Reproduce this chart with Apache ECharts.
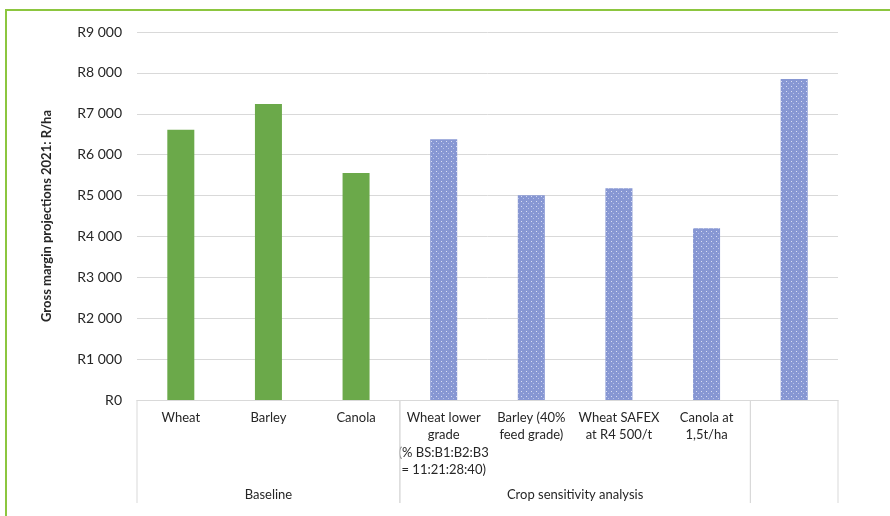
<!DOCTYPE html>
<html>
<head>
<meta charset="utf-8">
<title>Gross margin projections 2021</title>
<script src="https://cdn.jsdelivr.net/npm/echarts@6/dist/echarts.min.js"></script>
<style>
  html, body { margin: 0; padding: 0; background: #ffffff; }
  #chart { width: 890px; height: 516px; }
</style>
</head>
<body>
<div id="chart"></div>
<script>
// Scenario labels (first level of the category axis)
const categories = [
  'Wheat',
  'Barley',
  'Canola',
  'Wheat lower\ngrade\n(% BS:B1:B2:B3\n= 11:21:28:40)',
  'Barley (40%\nfeed grade)',
  'Wheat SAFEX\nat R4 500/t',
  'Canola at\n1,5t/ha',
  ''
];

// Gross margin, R/ha
const grossMargin = [6610, 7240, 5550, 6380, 5010, 5180, 4200, 7850];

// Which scenarios are baseline crops (solid fill) vs. sensitivity runs (dotted fill)
const isBaseline = [true, true, true, false, false, false, false, false];

// Second level of the category axis: [first index, last index] and its label
const groupNames = ['Baseline', 'Crop sensitivity analysis', ''];
const groupRanges = [[0, 2], [3, 6], [7, 7]];

// Value axis
const yMin = 0, yMax = 9000, yStep = 1000;

const FONT = 'Lato, "Open Sans", sans-serif';
const GREEN = '#6BA94A';
const BLUE = '#8797D3';

// Dotted fill for the sensitivity bars
function dotPattern() {
  const c = document.createElement('canvas');
  c.width = 5; c.height = 5;
  const g = c.getContext('2d');
  g.fillStyle = BLUE;
  g.fillRect(0, 0, 5, 5);
  g.fillStyle = 'rgba(225,230,248,0.9)';
  g.fillRect(1, 1, 1, 1);
  g.fillStyle = 'rgba(225,230,248,0.55)';
  g.fillRect(3, 3, 1, 1);
  return c;
}
const pattern = { image: dotPattern(), repeat: 'repeat' };

function fmtRand(v) {
  const s = String(Math.round(v));
  return 'R' + s.replace(/\B(?=(\d{3})+(?!\d))/g, ' ');
}

const barData = grossMargin.map((v, i) => ({
  value: v,
  itemStyle: { color: isBaseline[i] ? GREEN : pattern }
}));

const groupData = groupRanges.map((r) => [r[0], r[1], 0]);

const chart = echarts.init(document.getElementById('chart'), null, { renderer: 'canvas' });

chart.setOption({
  animation: false,
  backgroundColor: '#ffffff',
  textStyle: { fontFamily: FONT },
  graphic: [{
    type: 'rect',
    shape: { x: 6, y: 10, width: 900, height: 520 },
    style: { fill: 'none', stroke: '#8CC63F', lineWidth: 2 },
    silent: true,
    z: 0
  }],
  grid: { left: 137, right: 52, top: 32, bottom: 116, containLabel: false },
  xAxis: {
    type: 'category',
    data: categories,
    axisLine: { show: true, lineStyle: { color: '#D9D9D9', width: 1 } },
    axisTick: { show: false },
    axisLabel: {
      interval: 0,
      margin: 9,
      color: '#262626',
      fontSize: 13,
      lineHeight: 17.5,
      fontFamily: FONT,
      align: 'center'
    }
  },
  yAxis: {
    type: 'value',
    min: yMin,
    max: yMax,
    interval: yStep,
    name: 'Gross margin projections 2021: R/ha',
    nameLocation: 'middle',
    nameRotate: 90,
    nameGap: 84,
    nameTextStyle: { fontSize: 13, fontWeight: 'bold', color: '#262626', fontFamily: FONT },
    axisLine: { show: false },
    axisTick: { show: false },
    splitLine: { lineStyle: { color: '#D9D9D9', width: 1 } },
    axisLabel: {
      margin: 15,
      fontSize: 14,
      color: '#262626',
      fontFamily: FONT,
      formatter: fmtRand
    }
  },
  series: [
    {
      type: 'bar',
      data: barData,
      barWidth: 27,
      z: 3
    },
    {
      // Second level of the category axis: group labels and dividers
      type: 'custom',
      data: groupData,
      encode: { x: [0, 1], y: 2 },
      clip: false,
      silent: true,
      z: 2,
      renderItem: function (params, api) {
        const band = api.size([1, 0])[0];
        const p0 = api.coord([api.value(0), 0]);
        const p1 = api.coord([api.value(1), 0]);
        const left = p0[0] - band / 2;
        const right = p1[0] + band / 2;
        const y0 = p0[1];
        const depth = 103;
        const lineStyle = { stroke: '#D9D9D9', lineWidth: 1 };
        return {
          type: 'group',
          children: [
            { type: 'line', shape: { x1: left, y1: y0, x2: left, y2: y0 + depth }, style: lineStyle },
            { type: 'line', shape: { x1: right, y1: y0, x2: right, y2: y0 + depth }, style: lineStyle },
            {
              type: 'text',
              style: {
                x: (left + right) / 2,
                y: y0 + 95,
                text: groupNames[params.dataIndex],
                align: 'center',
                verticalAlign: 'middle',
                fill: '#262626',
                font: '13px ' + FONT
              }
            }
          ]
        };
      }
    }
  ]
});
</script>
</body>
</html>
